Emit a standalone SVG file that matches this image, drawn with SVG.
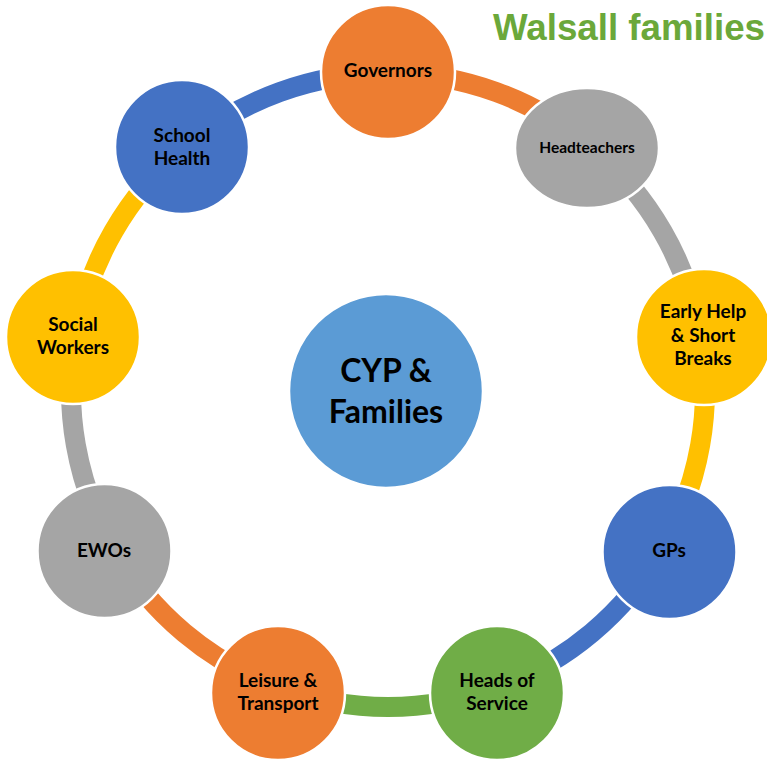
<svg xmlns="http://www.w3.org/2000/svg" width="767" height="762" viewBox="0 0 767 762">
<style>
.arc{fill:none;stroke-width:20}
.n{stroke:#fff;stroke-width:2.5}
.t{font-family:Lato,"Liberation Sans",sans-serif;font-weight:700;font-size:19px;fill:#000;text-anchor:middle}
.big{font-size:32px}
.sm{font-size:15.5px}
.or{fill:#ED7D31}.gr{fill:#A5A5A5}.ye{fill:#FFC000}.bl{fill:#4472C4}.gn{fill:#70AD47}
</style>
<rect width="767" height="762" fill="#fff"/>
<text x="493" y="40" font-family="'Liberation Sans',Arial,sans-serif" font-weight="700" font-size="36.5" fill="#6BA83A" textLength="272" lengthAdjust="spacingAndGlyphs">Walsall families</text>
<g id="connectors">
<path class="arc" stroke="#ED7D31" d="M388 73 A317 317 0 0 1 591.8 147.2"/>
<path class="arc" stroke="#A5A5A5" d="M591.8 147.2 A317 317 0 0 1 700.2 335"/>
<path class="arc" stroke="#FFC000" d="M700.2 335 A317 317 0 0 1 662.5 548.5"/>
<path class="arc" stroke="#4472C4" d="M662.5 548.5 A317 317 0 0 1 496.4 687.9"/>
<path class="arc" stroke="#70AD47" d="M496.4 687.9 A317 317 0 0 1 279.6 687.9"/>
<path class="arc" stroke="#ED7D31" d="M279.6 687.9 A317 317 0 0 1 113.5 548.5"/>
<path class="arc" stroke="#A5A5A5" d="M113.5 548.5 A317 317 0 0 1 75.8 335"/>
<path class="arc" stroke="#FFC000" d="M75.8 335 A317 317 0 0 1 184.2 147.2"/>
<path class="arc" stroke="#4472C4" d="M184.2 147.2 A317 317 0 0 1 388 73"/>
</g>
<g id="center">
<circle cx="386" cy="391" r="97" fill="#5B9BD5" class="n"/>
<text class="t big" x="386" y="382">CYP &amp;</text>
<text class="t big" x="386" y="423">Families</text>
</g>
<g id="governors">
<circle cx="388" cy="72" r="67" class="n or"/>
<text class="t" x="388" y="77">Governors</text>
</g>
<g id="headteachers">
<ellipse cx="587" cy="148" rx="72" ry="60" class="n gr"/>
<text class="t sm" x="587" y="153">Headteachers</text>
</g>
<g id="early-help">
<circle cx="704" cy="337" r="68" class="n ye"/>
<text class="t" x="703" y="318">Early Help</text>
<text class="t" x="703" y="342">&amp; Short</text>
<text class="t" x="703" y="365">Breaks</text>
</g>
<g id="gps">
<circle cx="669.5" cy="552" r="67" class="n bl"/>
<text class="t" x="669" y="557">GPs</text>
</g>
<g id="heads-of-service">
<circle cx="497" cy="693" r="67" class="n gn"/>
<text class="t" x="497" y="687">Heads of</text>
<text class="t" x="497" y="710">Service</text>
</g>
<g id="leisure-transport">
<circle cx="278" cy="693" r="67" class="n or"/>
<text class="t" x="278" y="687">Leisure &amp;</text>
<text class="t" x="278" y="710">Transport</text>
</g>
<g id="ewos">
<circle cx="104.5" cy="551" r="67" class="n gr"/>
<text class="t" x="104" y="557">EWOs</text>
</g>
<g id="social-workers">
<circle cx="73" cy="337" r="67" class="n ye"/>
<text class="t" x="73" y="331">Social</text>
<text class="t" x="73" y="354">Workers</text>
</g>
<g id="school-health">
<circle cx="182" cy="147" r="67" class="n bl"/>
<text class="t" x="182" y="142">School</text>
<text class="t" x="182" y="165">Health</text>
</g>
</svg>
